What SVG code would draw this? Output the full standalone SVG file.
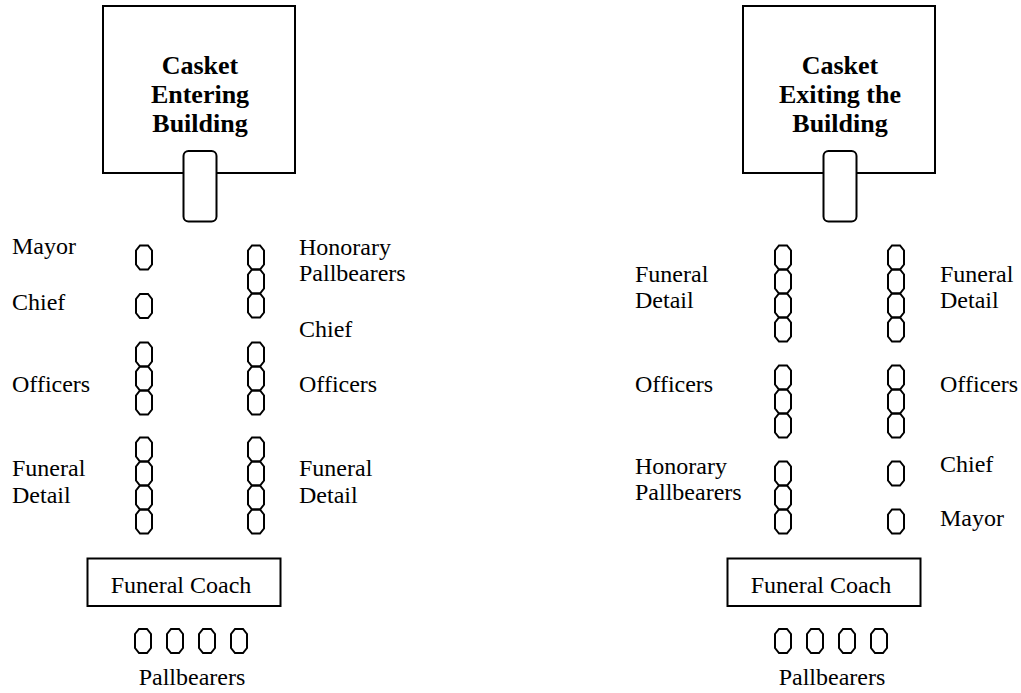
<svg xmlns="http://www.w3.org/2000/svg" width="1021" height="693" viewBox="0 0 1021 693">
<style>
.box{fill:#fff;stroke:#000;stroke-width:2}
.ck{fill:#fff;stroke:#000;stroke-width:2}
.oc{fill:none;stroke:#000;stroke-width:2;stroke-linejoin:miter}
.t{font-family:"Liberation Serif","Times New Roman",serif;font-size:24px;fill:#000}
.b{font-family:"Liberation Serif","Times New Roman",serif;font-size:26px;font-weight:bold;fill:#000;text-anchor:middle}
.m{text-anchor:middle}
</style>
<defs>
<polygon id="o" class="oc" points="4,0 12,0 16,5 16,19 12,24 4,24 0,19 0,5"/>
</defs>
<rect width="1021" height="693" fill="#fff"/>

<g id="left-diagram">
<g id="building-enter">
<rect class="box" x="103" y="6" width="192" height="167"/>
<text class="b"><tspan x="200" y="74">Casket</tspan><tspan x="200" y="103">Entering</tspan><tspan x="200" y="132">Building</tspan></text>
<rect class="ck" x="183.5" y="151" width="33" height="70.5" rx="5"/>
</g>
<g id="l-mayor"><use href="#o" x="136" y="245.5"/><text class="t" x="12" y="254">Mayor</text></g>
<g id="l-chief"><use href="#o" x="136" y="294"/><text class="t" x="12" y="309.5">Chief</text></g>
<g id="l-officers"><use href="#o" x="136" y="342.5"/><use href="#o" x="136" y="366.5"/><use href="#o" x="136" y="390.5"/><text class="t" x="12" y="392">Officers</text></g>
<g id="l-funeral"><use href="#o" x="136" y="437.5"/><use href="#o" x="136" y="461.5"/><use href="#o" x="136" y="485.5"/><use href="#o" x="136" y="509.5"/><text class="t"><tspan x="12" y="476">Funeral</tspan><tspan x="12" y="502.5">Detail</tspan></text></g>
<g id="r-honorary"><use href="#o" x="248" y="245.5"/><use href="#o" x="248" y="269.5"/><use href="#o" x="248" y="293.5"/><text class="t"><tspan x="299" y="255">Honorary</tspan><tspan x="299" y="280.5">Pallbearers</tspan></text></g>
<g id="r-chief-label"><text class="t" x="299" y="337">Chief</text></g>
<g id="r-officers"><use href="#o" x="248" y="342.5"/><use href="#o" x="248" y="366.5"/><use href="#o" x="248" y="390.5"/><text class="t" x="299" y="392">Officers</text></g>
<g id="r-funeral"><use href="#o" x="248" y="437.5"/><use href="#o" x="248" y="461.5"/><use href="#o" x="248" y="485.5"/><use href="#o" x="248" y="509.5"/><text class="t"><tspan x="299" y="476">Funeral</tspan><tspan x="299" y="502.5">Detail</tspan></text></g>
<g id="coach-left"><rect class="box" x="87.5" y="558.5" width="193" height="47.5"/><text class="t m" x="181" y="593">Funeral Coach</text></g>
<g id="pall-left"><use href="#o" x="135" y="629"/><use href="#o" x="167" y="629"/><use href="#o" x="199" y="629"/><use href="#o" x="231" y="629"/><text class="t m" x="192" y="685">Pallbearers</text></g>
</g>

<g id="right-diagram">
<g id="building-exit">
<rect class="box" x="743" y="6" width="192" height="167"/>
<text class="b"><tspan x="840" y="74">Casket</tspan><tspan x="840" y="103">Exiting the</tspan><tspan x="840" y="132">Building</tspan></text>
<rect class="ck" x="823.5" y="151" width="33" height="70.5" rx="5"/>
</g>
<g id="x-l-funeral"><use href="#o" x="775" y="245.5"/><use href="#o" x="775" y="269.5"/><use href="#o" x="775" y="293.5"/><use href="#o" x="775" y="317.5"/><text class="t"><tspan x="635" y="281.5">Funeral</tspan><tspan x="635" y="308">Detail</tspan></text></g>
<g id="x-l-officers"><use href="#o" x="775" y="365.5"/><use href="#o" x="775" y="389.5"/><use href="#o" x="775" y="413.5"/><text class="t" x="635" y="391.5">Officers</text></g>
<g id="x-l-honorary"><use href="#o" x="775" y="461.5"/><use href="#o" x="775" y="485.5"/><use href="#o" x="775" y="509.5"/><text class="t"><tspan x="635" y="474">Honorary</tspan><tspan x="635" y="500">Pallbearers</tspan></text></g>
<g id="x-r-funeral"><use href="#o" x="888" y="245.5"/><use href="#o" x="888" y="269.5"/><use href="#o" x="888" y="293.5"/><use href="#o" x="888" y="317.5"/><text class="t"><tspan x="940" y="281.5">Funeral</tspan><tspan x="940" y="308">Detail</tspan></text></g>
<g id="x-r-officers"><use href="#o" x="888" y="365.5"/><use href="#o" x="888" y="389.5"/><use href="#o" x="888" y="413.5"/><text class="t" x="940" y="391.5">Officers</text></g>
<g id="x-r-chief"><use href="#o" x="888" y="461.5"/><text class="t" x="940" y="472">Chief</text></g>
<g id="x-r-mayor"><use href="#o" x="888" y="509.5"/><text class="t" x="940" y="526">Mayor</text></g>
<g id="coach-right"><rect class="box" x="727.5" y="558.5" width="193" height="47.5"/><text class="t m" x="821" y="593">Funeral Coach</text></g>
<g id="pall-right"><use href="#o" x="775" y="629"/><use href="#o" x="807" y="629"/><use href="#o" x="839" y="629"/><use href="#o" x="871" y="629"/><text class="t m" x="832" y="685">Pallbearers</text></g>
</g>
</svg>
